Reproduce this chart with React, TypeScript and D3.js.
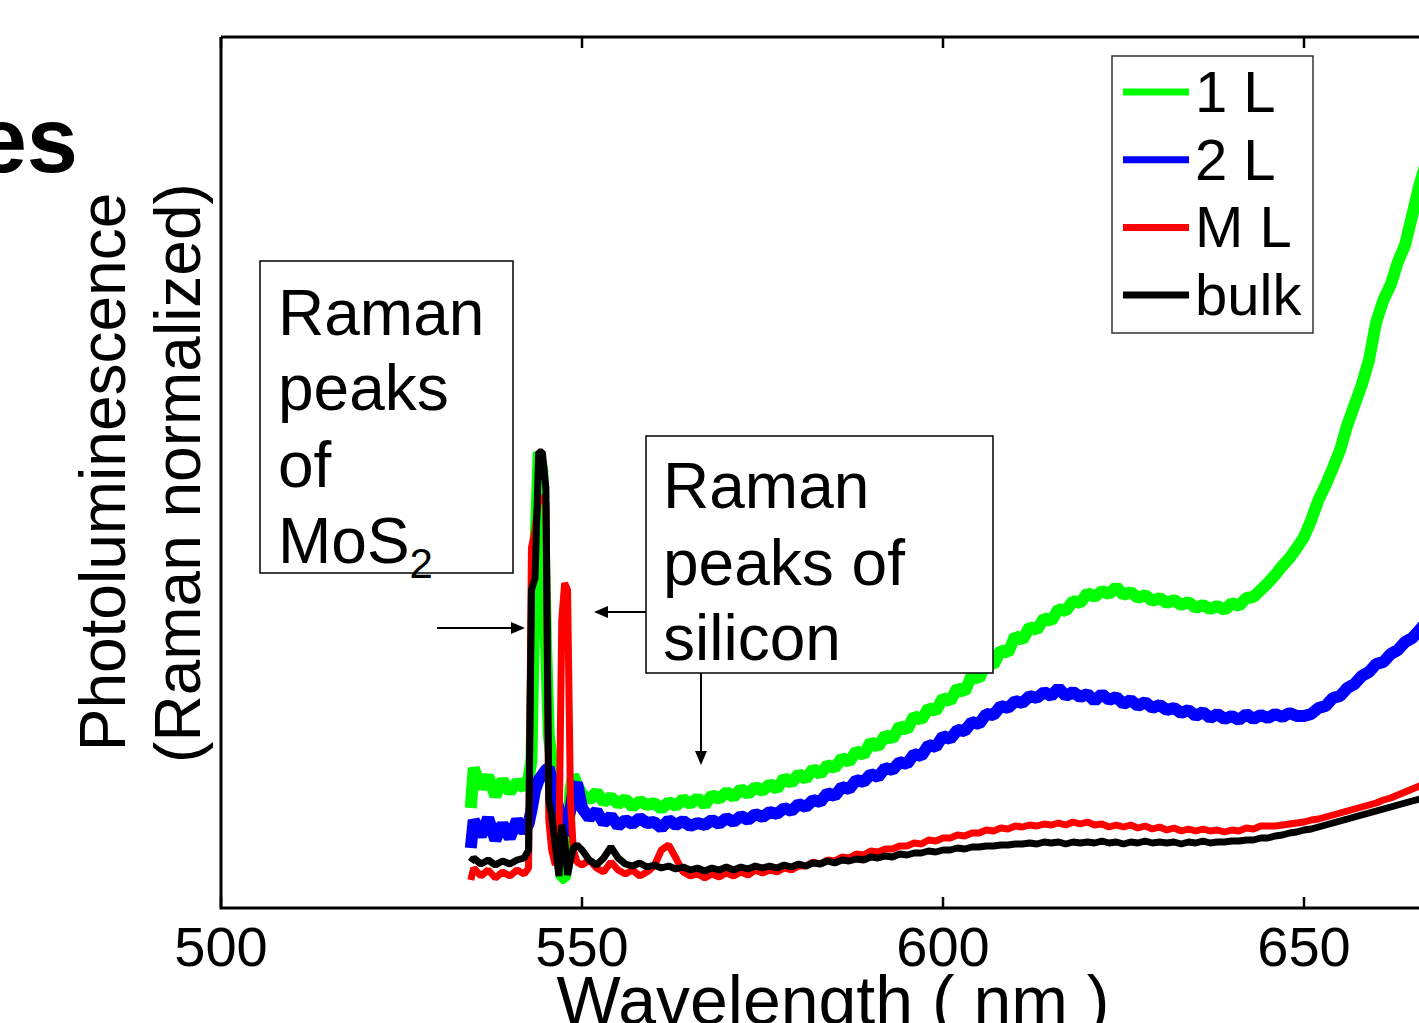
import React from 'react';
import * as d3 from 'd3';

// wavelength grid (nm): dense around the Raman peaks, then 1 nm steps
const wavelength = [
  534.6, 535, 536, 537, 538, 539, 540, 541, 542, 542.6, 543, 543.5, 544, 544.5, 545,
  545.4, 545.8, 546.3, 546.8, 547.2, 547.6, 548, 548.4, 548.8, 549.3,
  550, 551, 552, 553, 554, 555, 556, 557, 558, 559,
  560, 561, 562, 563, 564, 565, 566, 567, 568, 569,
  570, 571, 572, 573, 574, 575, 576, 577, 578, 579,
  580, 581, 582, 583, 584, 585, 586, 587, 588, 589,
  590, 591, 592, 593, 594, 595, 596, 597, 598, 599,
  600, 601, 602, 603, 604, 605, 606, 607, 608, 609,
  610, 611, 612, 613, 614, 615, 616, 617, 618, 619,
  620, 621, 622, 623, 624, 625, 626, 627, 628, 629,
  630, 631, 632, 633, 634, 635, 636, 637, 638, 639,
  640, 641, 642, 643, 644, 645, 646, 647, 648, 649,
  650, 651, 652, 653, 654, 655, 656, 657, 658, 659,
  660, 661, 662, 663, 664, 665, 666, 667,
];

// PL intensity (Raman normalized, arbitrary units)
const oneL = [
  100, 140, 120, 132, 112, 128, 116, 126, 120, 130, 148, 348, 456, 438, 268,
  173, 148, 118, 78, 30, 30, 48, 118, 133, 123,
  114, 108, 116, 106, 111, 104, 109, 101, 107, 103,
  105, 99, 106, 102, 109, 104, 110, 103, 113, 109,
  116, 111, 119, 114, 121, 117, 124, 119, 130, 125,
  134, 129, 139, 134, 143, 140, 150, 146, 157, 153,
  166, 161, 173, 169, 182, 178, 192, 188, 200, 197,
  210, 207, 220, 216, 233, 229, 246, 243, 258, 255,
  272, 268, 281, 278, 290, 287, 299, 297, 307, 305,
  315, 311, 317, 314, 321, 313, 316, 310, 313, 307,
  310, 305, 308, 303, 306, 300, 303, 299, 302, 298,
  305, 302, 310, 311, 318, 325, 333, 342, 350, 360,
  371, 388, 408, 423, 440, 458, 483, 503, 523, 548,
  586, 608, 623, 646, 663, 693, 723, 748,
];

const twoL = [
  60, 88, 72, 90, 68, 84, 70, 88, 76, 84, 98, 118, 128, 133, 138,
  140, 128, 113, 98, 78, 73, 88, 98, 118, 125,
  100, 90, 97, 85, 92, 82, 88, 84, 90, 85,
  86, 80, 88, 83, 87, 82, 85, 83, 88, 84,
  90, 86, 92, 88, 94, 91, 96, 94, 100, 97,
  104, 101, 108, 106, 115, 112, 121, 119, 128, 126,
  134, 131, 140, 138, 146, 144, 154, 152, 163, 161,
  172, 169, 178, 177, 186, 184, 194, 193, 202, 200,
  207, 205, 212, 210, 216, 212, 220, 212, 216, 211,
  214, 207, 214, 208, 211, 204, 208, 202, 206, 200,
  203, 198, 200, 195, 198, 192, 196, 190, 194, 189,
  192, 188, 194, 189, 193, 190, 194, 191, 195, 192,
  192, 194, 200, 202, 210, 212, 220, 224, 232, 236,
  244, 246, 254, 258, 266, 270, 278, 286,
];

const multiL = [
  28, 40, 32, 38, 30, 36, 32, 38, 34, 40, 360, 378, 410, 410, 405,
  88, 58, 43, 58, 288, 325, 318, 108, 58, 46,
  43, 48, 40, 36, 46, 38, 34, 38, 32, 36,
  42, 58, 63, 50, 36, 32, 34, 30, 34, 31,
  35, 32, 36, 33, 38, 35, 38, 36, 40, 38,
  42, 42, 46, 44, 48, 47, 51, 50, 54, 53,
  57, 56, 59, 59, 62, 62, 65, 64, 68, 67,
  70, 70, 73, 72, 75, 75, 78, 77, 80, 79,
  82, 81, 83, 82, 84, 83, 85, 83, 86, 84,
  86, 83, 84, 81, 83, 81, 83, 80, 82, 79,
  81, 78, 80, 77, 79, 77, 79, 77, 78, 76,
  78, 77, 80, 79, 82, 82, 82, 83, 84, 85,
  86, 88, 89, 91, 93, 95, 97, 99, 101, 103,
  105, 108, 110, 113, 116, 119, 122, 125,
];

const bulk = [
  46, 50, 44, 48, 43, 47, 44, 48, 50, 58, 318, 330, 456, 456, 420,
  108, 93, 63, 32, 83, 68, 33, 48, 60, 63,
  58, 48, 43, 50, 61, 50, 44, 42, 45, 41,
  43, 40, 42, 39, 41, 38, 40, 37, 40, 38,
  41, 38, 41, 39, 42, 40, 42, 40, 43, 41,
  44, 42, 45, 44, 47, 45, 48, 47, 49, 48,
  51, 50, 52, 51, 54, 53, 55, 55, 57, 56,
  58, 58, 60, 59, 61, 61, 62, 62, 63, 63,
  64, 64, 65, 64, 66, 65, 66, 64, 66, 65,
  66, 65, 67, 65, 66, 64, 66, 65, 67, 65,
  66, 65, 66, 64, 66, 65, 67, 65, 66, 66,
  67, 67, 68, 68, 70, 70, 72, 73, 75, 76,
  78, 79, 81, 83, 85, 87, 89, 91, 93, 95,
  97, 99, 101, 103, 105, 107, 109, 111,
];

const seriesNames = ['1 L', '2 L', 'M L', 'bulk'];
const seriesValues = [oneL, twoL, multiL, bulk];
const seriesColors = ['#00ff00', '#0000ff', '#ff0000', '#000000'];
const seriesWidths = [12, 12, 7, 7];
const xTicks = [500, 550, 600, 650, 700];

const FONT = "'Liberation Sans', Arial, Helvetica, sans-serif";

const App = () => {
  const left = 221, top = 37, bottom = 908;
  const x = d3.scaleLinear().domain([500, 700]).range([left, 1665]);
  const y = d3.scaleLinear().domain([0, 871]).range([bottom, top]);

  const line = d3.line<number>()
    .x((_, i) => x(wavelength[i]))
    .y(d => y(d));

  return (
    <svg width={1419} height={1023} style={{ position: 'absolute', left: 0, top: 0, background: '#fff' }}
      fontFamily={FONT}>
      <defs>
        <clipPath id="plotArea">
          <rect x={left} y={top} width={1665 - left} height={bottom - top} />
        </clipPath>
      </defs>
      <rect x={0} y={0} width={1419} height={1023} fill="#fff" />

      {/* cut-off panel title */}
      <text x={78} y={172} fontSize={92} fontWeight="bold" textAnchor="end">es</text>

      {/* spectra */}
      <g clipPath="url(#plotArea)">
        {seriesValues.map((vals, k) => (
          <path key={seriesNames[k]} d={line(vals) || ''} fill="none"
            stroke={seriesColors[k]} strokeWidth={seriesWidths[k]} strokeLinejoin="bevel" />
        ))}
      </g>

      {/* axes frame */}
      <path d={`M${left},${top}V${bottom}H1665`} fill="none" stroke="#000" strokeWidth={3} />
      <path d={`M${left},${top}H1665`} fill="none" stroke="#000" strokeWidth={3} />
      {xTicks.map(t => (
        <g key={t}>
          <line x1={x(t)} x2={x(t)} y1={bottom} y2={bottom - 11} stroke="#000" strokeWidth={2.5} />
          <line x1={x(t)} x2={x(t)} y1={top} y2={top + 11} stroke="#000" strokeWidth={2.5} />
          <text x={x(t)} y={966} fontSize={56} textAnchor="middle">{t}</text>
        </g>
      ))}

      {/* axis labels */}
      <text x={833} y={1024} fontSize={68} textAnchor="middle">Wavelength ( nm )</text>
      <text transform="translate(125,472) rotate(-90)" fontSize={64} textAnchor="middle">Photoluminescence</text>
      <text transform="translate(200,473) rotate(-90)" fontSize={64} textAnchor="middle">(Raman normalized)</text>

      {/* MoS2 annotation */}
      <rect x={260} y={261} width={253} height={312} fill="#fff" stroke="#000" strokeWidth={1.5} />
      <g fontSize={64}>
        <text x={278} y={335}>Raman</text>
        <text x={278} y={410}>peaks</text>
        <text x={278} y={487}>of</text>
        <text x={278} y={563}>MoS<tspan fontSize={42} dy={15}>2</tspan></text>
      </g>
      <line x1={437} x2={512} y1={628} y2={628} stroke="#000" strokeWidth={2} />
      <polygon points="525,628 511,622 511,634" fill="#000" />

      {/* silicon annotation */}
      <rect x={646} y={436} width={347} height={237} fill="#fff" stroke="#000" strokeWidth={1.5} />
      <g fontSize={64}>
        <text x={663} y={508}>Raman</text>
        <text x={663} y={585}>peaks of</text>
        <text x={663} y={660}>silicon</text>
      </g>
      <line x1={646} x2={607} y1={612} y2={612} stroke="#000" strokeWidth={2} />
      <polygon points="594,612 608,606 608,618" fill="#000" />
      <line x1={701} x2={701} y1={673} y2={752} stroke="#000" strokeWidth={2} />
      <polygon points="701,765 695,751 707,751" fill="#000" />

      {/* legend */}
      <rect x={1112} y={56} width={201} height={277} fill="#fff" stroke="#333" strokeWidth={1.5} />
      {seriesNames.map((name, k) => (
        <g key={name}>
          <line x1={1123} x2={1189} y1={92 + k * 67.7} y2={92 + k * 67.7}
            stroke={seriesColors[k]} strokeWidth={7} />
          <text x={1195} y={112 + k * 67.7} fontSize={58}>{name}</text>
        </g>
      ))}
    </svg>
  );
};

export default App;
